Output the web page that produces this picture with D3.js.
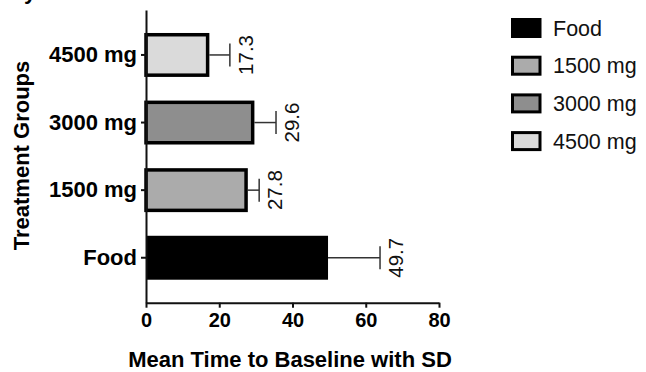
<!DOCTYPE html>
<html>
<head>
<meta charset="utf-8">
<script src="https://cdn.jsdelivr.net/npm/d3@7"></script>
<style>
  html, body { margin: 0; padding: 0; background: #fff; }
  svg { display: block; font-family: "Liberation Sans", Arial, sans-serif; }
</style>
</head>
<body>
<svg id="chart" width="646" height="372"></svg>
<script>
'use strict';

// chart values
var groups = ['Food', '1500 mg', '3000 mg', '4500 mg'];
var means  = [49.7, 27.8, 29.6, 17.3];
var sds    = [14.2, 3.1, 5.9, 5.6];
var xTicks = [0, 20, 40, 60, 80];

var fills = { 'Food': '#000000', '1500 mg': '#ababab', '3000 mg': '#8e8e8e', '4500 mg': '#dadada' };

var svg = d3.select('#chart');

var x = d3.scaleLinear().domain([0, 80]).range([146, 439]);
var y = d3.scaleBand()
  .domain(groups.slice().reverse())
  .range([10, 302.7])
  .paddingInner(0.35)
  .paddingOuter(0.34);

var rows = groups.map(function(g, i) {
  return { name: g, mean: means[i], sd: sds[i] };
});

// cut-off text fragment at the very top
svg.append('text')
  .attr('x', 24).attr('y', -1.5)
  .style('font-size', '22px').style('font-weight', 'bold')
  .text('y');

// error bars
var err = svg.append('g').attr('class', 'errors');
err.selectAll('line.whisker')
  .data(rows).enter()
  .append('line')
    .attr('x1', function(d) { return x(d.mean); })
    .attr('x2', function(d) { return x(d.mean + d.sd); })
    .attr('y1', function(d) { return y(d.name) + y.bandwidth() / 2; })
    .attr('y2', function(d) { return y(d.name) + y.bandwidth() / 2; })
    .style('stroke', '#333')
    .style('stroke-width', 1.5);
err.selectAll('line.cap')
  .data(rows).enter()
  .append('line')
    .attr('x1', function(d) { return x(d.mean + d.sd); })
    .attr('x2', function(d) { return x(d.mean + d.sd); })
    .attr('y1', function(d) { return y(d.name) + y.bandwidth() / 2 - 11.5; })
    .attr('y2', function(d) { return y(d.name) + y.bandwidth() / 2 + 11.5; })
    .style('stroke', '#333')
    .style('stroke-width', 1.5);

// bars
var sw = 3.5;
svg.append('g').selectAll('rect')
  .data(rows).enter()
  .append('rect')
    .attr('x', x(0))
    .attr('y', function(d) { return d.name === 'Food' ? y(d.name) : y(d.name) + sw / 2; })
    .attr('width', function(d) { return d.name === 'Food' ? x(d.mean) - x(0) : x(d.mean) - x(0) - sw / 2; })
    .attr('height', function(d) { return d.name === 'Food' ? y.bandwidth() : y.bandwidth() - sw; })
    .style('fill', function(d) { return fills[d.name]; })
    .style('stroke', '#000')
    .style('stroke-width', function(d) { return d.name === 'Food' ? 0 : sw; });

// value labels, rotated
svg.append('g').selectAll('text')
  .data(rows).enter()
  .append('text')
    .attr('transform', function(d) {
      return 'translate(' + (x(d.mean + d.sd) + 23) + ',' + (y(d.name) + y.bandwidth() / 2) + ') rotate(-90)';
    })
    .attr('text-anchor', 'middle')
    .style('font-size', '20.5px')
    .style('fill', '#111')
    .text(function(d) { return d.mean.toFixed(1); });

// axes
var xAxis = svg.append('g')
  .attr('transform', 'translate(0,302.7)')
  .call(d3.axisBottom(x).tickValues(xTicks).tickSize(5).tickSizeOuter(0).tickPadding(5));
var yAxis = svg.append('g')
  .attr('transform', 'translate(146,0)')
  .call(d3.axisLeft(y).tickSize(5).tickSizeOuter(0).tickPadding(4));

[xAxis, yAxis].forEach(function(a) {
  a.select('.domain').style('stroke', '#111').style('stroke-width', 2);
  a.selectAll('.tick line').style('stroke', '#111').style('stroke-width', 2);
  a.selectAll('.tick text')
    .style('font-family', '"Liberation Sans", Arial, sans-serif')
    .style('font-weight', 'bold')
    .style('fill', '#000');
});
xAxis.selectAll('.tick text').style('font-size', '20px');
yAxis.selectAll('.tick text').style('font-size', '22px');

// axis titles
svg.append('text')
  .attr('x', 290).attr('y', 367)
  .attr('text-anchor', 'middle')
  .style('font-size', '22px').style('font-weight', 'bold')
  .text('Mean Time to Baseline with SD');

svg.append('text')
  .attr('transform', 'translate(29,155.5) rotate(-90)')
  .attr('text-anchor', 'middle')
  .style('font-size', '22px').style('font-weight', 'bold')
  .text('Treatment Groups');

// legend
var legend = svg.append('g').selectAll('g')
  .data(rows).enter()
  .append('g')
    .attr('transform', function(d, i) { return 'translate(511,' + (28 + i * 37.7) + ')'; });
legend.append('rect')
  .attr('x', function(d) { return d.name === 'Food' ? 0 : 1.5; })
  .attr('y', function(d) { return d.name === 'Food' ? -10 : -8.5; })
  .attr('width', function(d) { return d.name === 'Food' ? 30.5 : 27.5; })
  .attr('height', function(d) { return d.name === 'Food' ? 20 : 17; })
  .style('fill', function(d) { return fills[d.name]; })
  .style('stroke', '#000')
  .style('stroke-width', function(d) { return d.name === 'Food' ? 0 : 3; });
legend.append('text')
  .attr('x', 42).attr('y', 0).attr('dy', '0.36em')
  .style('font-size', '21.5px')
  .style('fill', '#111')
  .text(function(d) { return d.name; });
</script>
</body>
</html>
